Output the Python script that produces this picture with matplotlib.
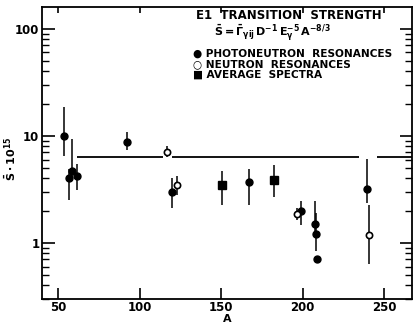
import numpy as np
import matplotlib.pyplot as plt

# photoneutron resonances (filled circles)
pn_A = [53.7, 56.8, 58.2, 61.7, 92.0, 119.8, 167.0, 198.8, 207.4, 208.0, 208.6, 239.5]
pn_S = [10.0, 4.0, 4.7, 4.2, 8.8, 3.0, 3.67, 1.98, 1.5, 1.21, 0.70, 3.16]
pn_lo = [6.5, 2.5, 3.8, 3.1, 7.3, 2.1, 2.25, 1.47, 1.21, 0.84, 0.66, 2.35]
pn_hi = [18.6, 4.9, 9.4, 5.5, 10.9, 4.0, 4.9, 2.45, 2.45, 1.9, 0.74, 6.1]

# neutron resonances (open circles)
nr_A = [116.7, 122.8, 196.3, 240.7]
nr_S = [7.1, 3.5, 1.86, 1.19]
nr_lo = [6.4, 2.8, 1.63, 0.63]
nr_hi = [8.1, 4.2, 2.1, 2.25]

# average spectra (filled squares)
av_A = [150.6, 182.6]
av_S = [3.45, 3.9]
av_lo = [2.25, 2.7]
av_hi = [4.7, 5.3]

# horizontal reference level, drawn in pieces
ref_S = 6.3
ref_start = [61.7, 120.0, 245.7]
ref_end = [114.0, 234.5, 267.0]

fig = plt.figure(figsize=(4.13, 3.29), dpi=100)
ax = fig.add_axes([0.102, 0.092, 0.895, 0.887])

def errs(S, lo, hi):
    S = np.array(S); return [S - np.array(lo), np.array(hi) - S]

ax.hlines([ref_S] * len(ref_start), ref_start, ref_end, color='k', lw=1.3)
ax.errorbar(pn_A, pn_S, yerr=errs(pn_S, pn_lo, pn_hi), fmt='o', ms=5,
            color='k', ecolor='k', elinewidth=1.1, capsize=0)
ax.errorbar(nr_A, nr_S, yerr=errs(nr_S, nr_lo, nr_hi), fmt='o', ms=4.5,
            mfc='white', mec='k', mew=1.2, ecolor='k', elinewidth=1.1, capsize=0)
ax.errorbar(av_A, av_S, yerr=errs(av_S, av_lo, av_hi), fmt='s', ms=5.5,
            color='k', ecolor='k', elinewidth=1.1, capsize=0)

ax.set_yscale('log')
ax.set_xlim(40, 267)
ax.set_ylim(0.3, 160)
ax.set_xticks([50, 100, 150, 200, 250])
ax.set_yticks([1, 10, 100])
ax.set_yticklabels(['1', '10', '100'])
ax.tick_params(which='major', direction='in', length=9, width=1.2,
               labelsize=8.5, pad=2)
ax.tick_params(which='minor', direction='in', length=5, width=1.0)
ax.tick_params(which='both', top=True, right=True)
ax.tick_params(axis='x', which='major', length=8, pad=1.5)
for lab in ax.get_xticklabels() + ax.get_yticklabels():
    lab.set_fontweight('bold')
for s in ax.spines.values():
    s.set_linewidth(1.3)
# shorter ticks along the top edge
for t in ax.xaxis.get_major_ticks():
    t.tick2line.set_markersize(4)

ax.set_xlabel('A', fontsize=8, fontweight='bold')
ax.xaxis.set_label_coords(0.5, -0.052)
ax.set_ylabel(r'$\mathbf{\bar{S}\cdot10^{15}}$', fontsize=8)
ax.yaxis.set_label_coords(-0.065, 0.48)

fig.text(0.70, 0.952, 'E1  TRANSITION  STRENGTH', fontsize=8.5, fontweight='bold',
         ha='center', va='center')
fig.text(0.66, 0.898, r'$\mathbf{\bar{S}=\bar{\Gamma}_{\gamma i j}\,D^{-1}\,E_{\gamma}^{-5}\,A^{-8/3}}$',
         fontsize=8, ha='center', va='center')
fig.text(0.467, 0.838, u'\u25cf PHOTONEUTRON  RESONANCES', fontsize=7.6, fontweight='bold', va='center')
fig.text(0.467, 0.806, u'\u25cb NEUTRON  RESONANCES', fontsize=7.6, fontweight='bold', va='center')
fig.text(0.467, 0.773, u'\u25a0 AVERAGE  SPECTRA', fontsize=7.6, fontweight='bold', va='center')

fig.savefig('out.png', dpi=100)
